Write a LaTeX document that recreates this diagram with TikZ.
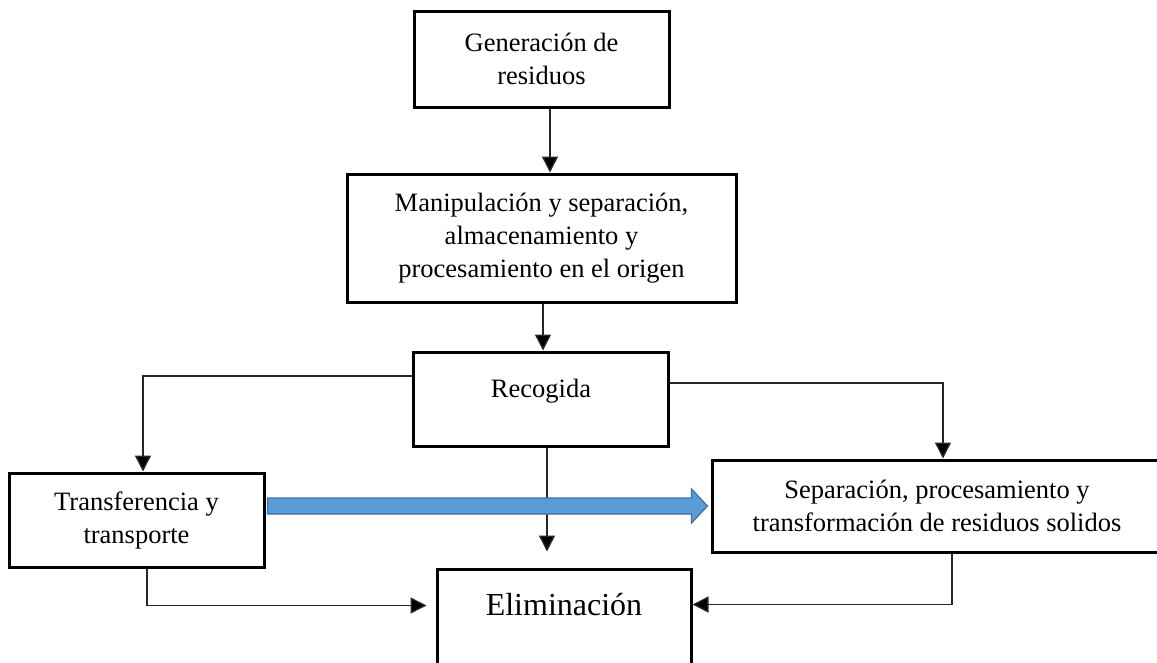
\documentclass[tikz,border=0pt]{standalone}
\usepackage{fontspec}
\setmainfont{Liberation Serif}
\usetikzlibrary{calc,arrows.meta}
\begin{document}
\begin{tikzpicture}[x=1pt,y=-1pt,
  box/.style={draw=black,line width=3pt,inner sep=0pt,align=center,
    font=\fontsize{26.5}{33}\selectfont},
  conn/.style={draw=black!85,line width=1.4pt},
  arr/.style={conn,-{Triangle[length=16pt,width=16pt,fill=black]}}]
\useasboundingbox (0,0) rectangle (1157,662);
\clip (0,0) rectangle (1157,662);
\fill[white] (0,0) rectangle (1157,662);
\node[box,minimum width=255pt,minimum height=96pt] (gen) at (541.5,59) {Generación de\\residuos};
\node[box,minimum width=389pt,minimum height=128pt] (man) at (541.5,238) {Manipulación y separación,\\almacenamiento y\\procesamiento en el origen};
\node[box,minimum width=255pt,minimum height=94pt] (rec) at (540.5,399) {};
\node[anchor=base,font=\fontsize{26.5}{33}\selectfont] (rect) at (541,397) {Recogida};
\node[box,minimum width=255pt,minimum height=94pt] (tra) at (136.5,520) {Transferencia y\\transporte};
\node[box,minimum width=450pt,minimum height=92pt] (sep) at (937,506) {Separación, procesamiento y\\transformación de residuos solidos};
\node[box,minimum width=254pt,minimum height=131pt] (eli) at (564,634.5) {};
\node[anchor=base,font=\fontsize{32}{38}\selectfont] (elit) at (564,615) {Eliminación};
% connectors
\draw[arr] ($(gen.south)+(8.5,0)$) -- ($(man.north)+(8.5,0)$);
\draw[arr] ($(man.south)+(1.5,0)$) -- ($(rec.north)+(2.5,0)$);
\draw[arr] ($(rec.west)+(0,-23)$) -| ($(tra.north)+(6.5,0)$);
\draw[arr] ($(rec.east)+(0,-16)$) -| ($(sep.north)+(6,0)$);
\coordinate (ee) at ($(eli.north)+(-17,-16)$);
\draw[arr] ($(rec.south)+(6.5,0)$) -- (ee);
\draw[arr,shorten >=9pt] ($(tra.south)+(10.5,0)$) |- ($(eli.north west)+(0,38)$);
\draw[arr] ($(sep.south)+(15,0)$) |- ($(eli.north east)+(0,37)$);
% blue arrow
\coordinate (ba) at ($(tra.east)+(2,-14)$);
\coordinate (bb) at ($(sep.west)+(-3,0)$);
\filldraw[fill={rgb,255:red,91;green,155;blue,213},draw={rgb,255:red,65;green,113;blue,156},line width=1.2pt]
  ($(ba)+(0,-8)$) -- ($(bb)+(-16,-8)$) -- ($(bb)+(-16,-17)$) -- (bb) -- ($(bb)+(-16,17)$) -- ($(bb)+(-16,8)$) -- ($(ba)+(0,8)$) -- cycle;
\end{tikzpicture}
\end{document}
